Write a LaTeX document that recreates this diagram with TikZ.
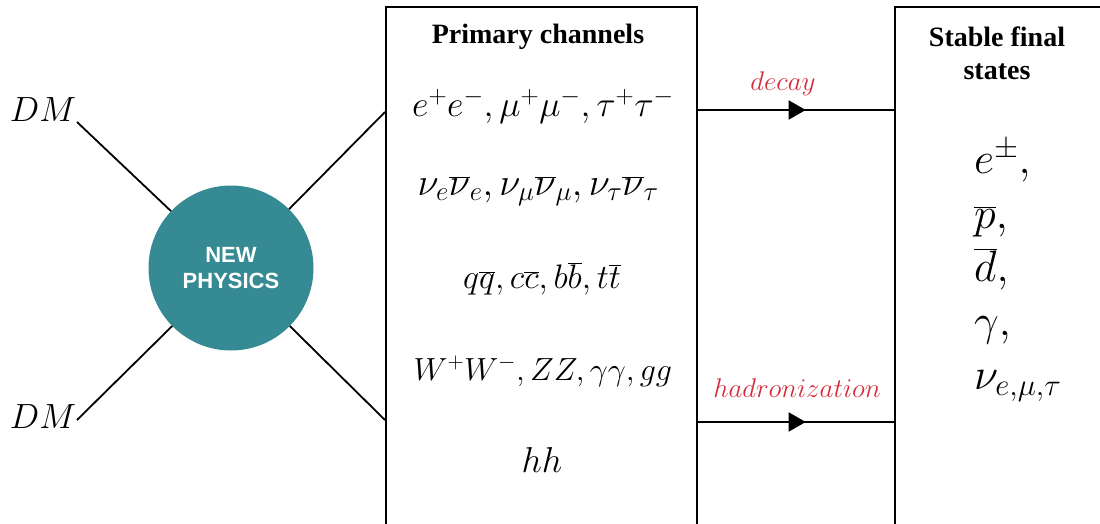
\documentclass[tikz,border=0pt]{standalone}
\usepackage{fix-cm}
\usepackage{fontspec}
\setmainfont{Liberation Serif}
\newfontfamily\npfont{Liberation Sans}
\usetikzlibrary{arrows.meta,decorations.markings}
\definecolor{npteal}{HTML}{358A93}
\definecolor{lblred}{HTML}{D42B3B}
\begin{document}
\begin{tikzpicture}[x=1pt,y=-1pt,
  boxstyle/.style={draw, line width=1.8pt, inner sep=0pt, anchor=north west},
  leg/.style={line width=1.8pt},
  mathrow/.style={anchor=base},
  fsrow/.style={font=\fontsize{44}{54}\selectfont, anchor=base west, inner sep=0pt},
  heading/.style={font=\fontsize{28}{33}\selectfont\bfseries, align=center},
  dmstyle/.style={font=\fontsize{35}{42}\selectfont},
  lbl/.style={text=lblred, font=\fontsize{27}{32}\selectfont, anchor=base},
  flow/.style={line width=1.8pt, postaction={decorate},
    decoration={markings, mark=at position 0.55 with {\arrow{Triangle[length=17pt,width=19pt]}}}}
]
\useasboundingbox (0,0) rectangle (1100,524);
\clip (0,0) rectangle (1100,524);

% boxes
\node[boxstyle, minimum width=311pt, minimum height=580pt] (box1) at (385,6) {};
\node[boxstyle, minimum width=260pt, minimum height=580pt] (box2) at (894,6) {};

% headings
\node[heading] (h1) at (538,37) {Primary channels};
\node[heading] (h2) at (997,53) {Stable final\\states};

% primary channels
\node[mathrow, font=\fontsize{36}{43}\selectfont] (r1) at (543,117) {$e^+e^-,\mu^+\mu^-,\tau^+\tau^-$};
\node[mathrow, font=\fontsize{38.5}{46}\selectfont] (r2) at (538,195) {$\nu_e\overline{\nu}_e,\nu_\mu\overline{\nu}_\mu,\nu_\tau\overline{\nu}_\tau$};
\node[mathrow, font=\fontsize{34}{41}\selectfont] (r3) at (542,288) {$q\overline{q},c\overline{c},b\overline{b},t\overline{t}$};
\node[mathrow, font=\fontsize{32}{38}\selectfont] (r4) at (543,380) {$W^+W^-,ZZ,\gamma\gamma,gg$};
\node[mathrow, font=\fontsize{36}{43}\selectfont] (r5) at (542,472) {$hh$};

% final states
\node[fsrow] (f1) at (974,173) {$e^{\pm},$};
\node[fsrow] (f2) at (974,228) {$\overline{p},$};
\node[fsrow] (f3) at (974,281) {$\overline{d},$};
\node[fsrow] (f4) at (974,335) {$\gamma,$};
\node[fsrow] (f5) at (974,389) {$\nu_{e,\mu,\tau}$};

% new physics blob
\node[circle, fill=npteal, minimum size=165pt, inner sep=0pt, text=white,
      font=\npfont\bfseries\fontsize{22}{26}\selectfont, align=center] (np) at (231,268) {NEW\\PHYSICS};

% DM
\node[dmstyle] (dm1) at (43,110) {$DM$};
\node[dmstyle] (dm2) at (43,417) {$DM$};
\coordinate (dm1e) at (77,122);
\coordinate (dm2e) at (77,420);
\coordinate (in1) at (385,112);
\coordinate (in2) at (385,420);

\draw[leg] (dm1e) -- (np);
\draw[leg] (dm2e) -- (np);
\draw[leg] (np) -- (in1);
\draw[leg] (np) -- (in2);

% flows
\coordinate (ya) at (0,110);
\coordinate (yb) at (0,422);
\draw[flow] (box1.east |- ya) -- (box2.west |- ya);
\draw[flow] (box1.east |- yb) -- (box2.west |- yb);
\node[lbl] (l1) at (783,91) {$decay$};
\node[lbl] (l2) at (797,397) {$hadronization$};
\end{tikzpicture}
\end{document}
